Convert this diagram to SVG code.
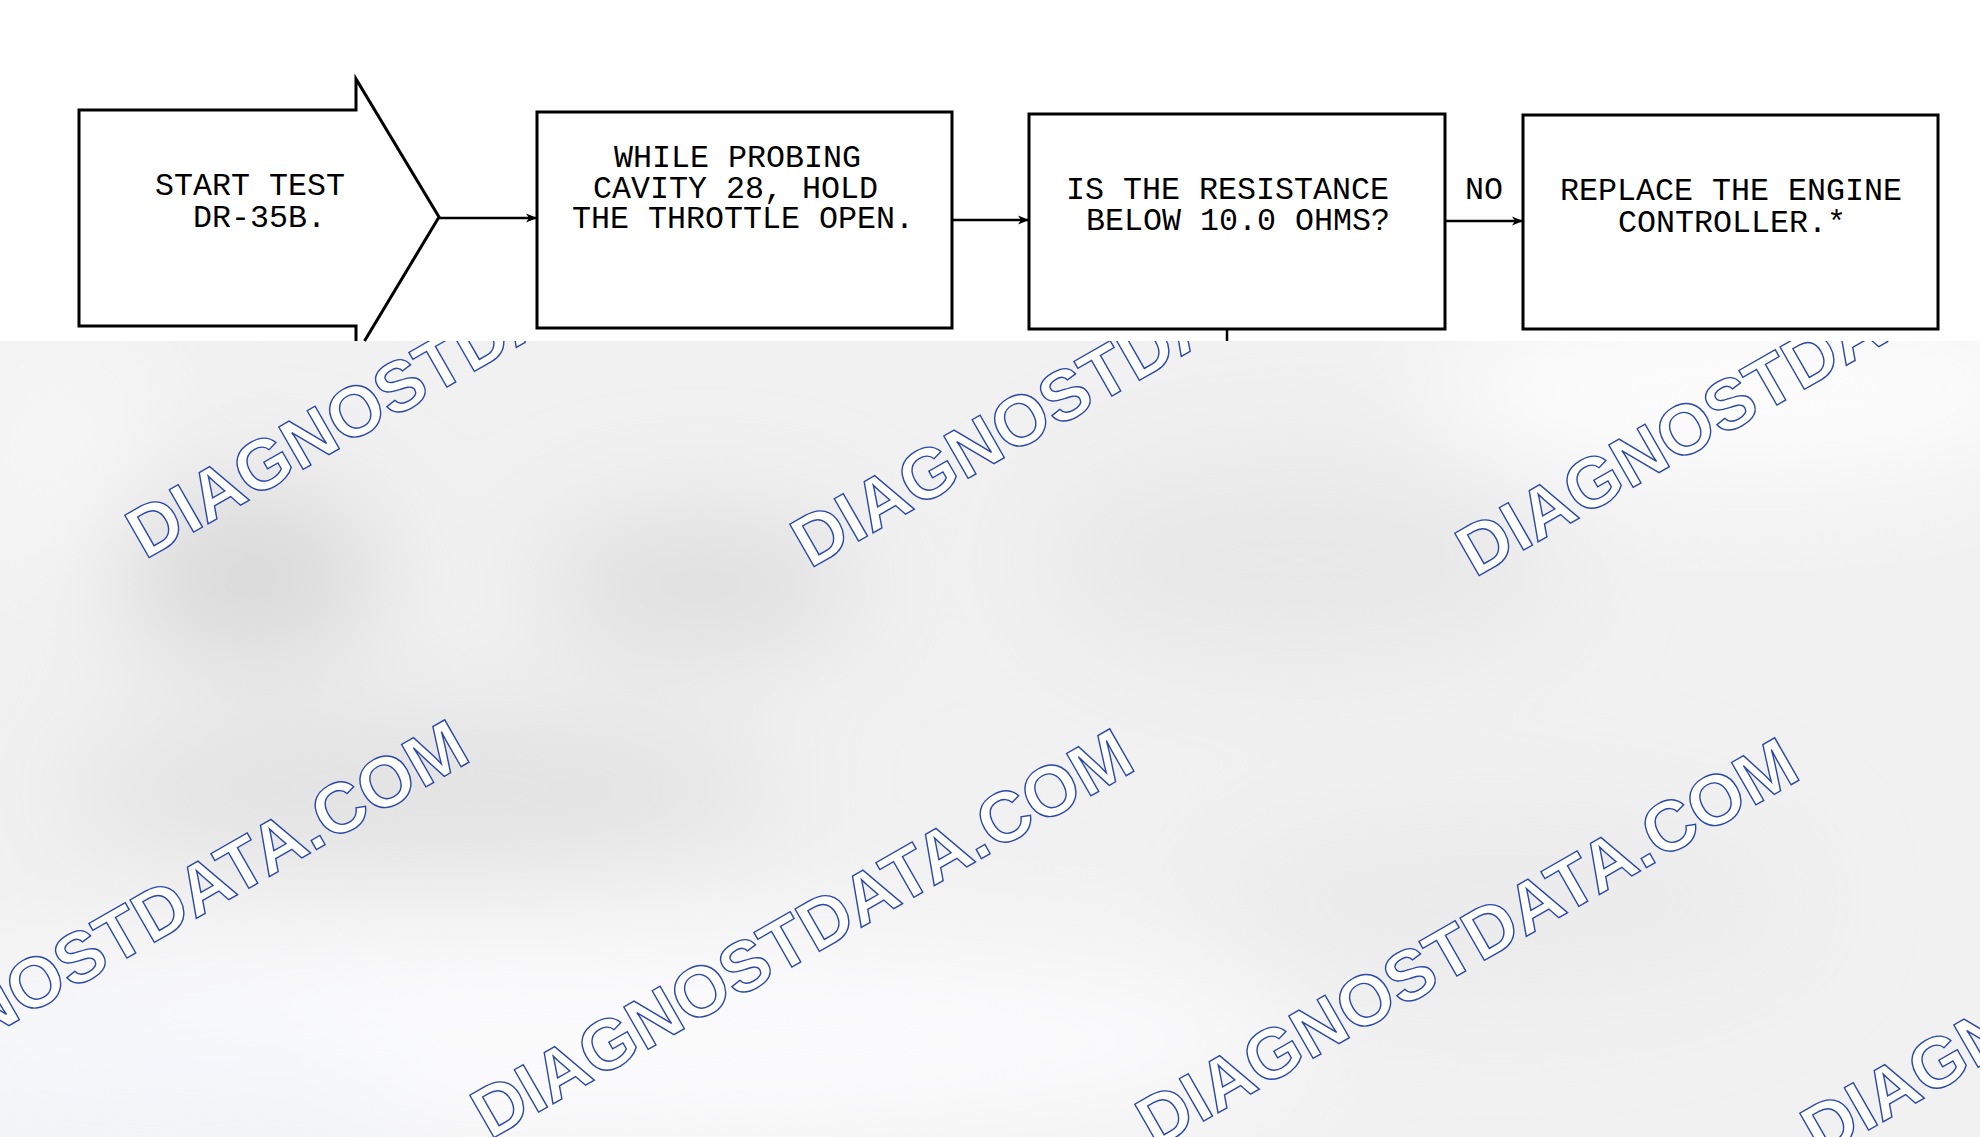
<svg xmlns="http://www.w3.org/2000/svg" width="1980" height="1137" viewBox="0 0 1980 1137">
  <defs>
    <style>
      .box { fill: none; stroke: #000; stroke-width: 3; }
      .shape { fill: none; stroke: #000; stroke-width: 3; stroke-linejoin: miter; }
      .conn { fill: none; stroke: #000; stroke-width: 2.5; }
      .lbl { font-family: "Liberation Mono", "DejaVu Sans Mono", monospace; font-size: 31.67px; fill: #000; }
      .wm { font-family: "Liberation Sans", Arial, sans-serif; font-weight: bold; font-size: 71px; fill: #ffffff; stroke: #2b48a8; stroke-width: 1.4; }
    </style>
    <marker id="arrow" markerUnits="userSpaceOnUse" markerWidth="12" markerHeight="10" refX="11" refY="5" orient="auto">
      <path d="M0,0.5 L11,5 L0,9.5 L3,5 z" fill="#000"/>
    </marker>
    <filter id="blur" x="-50%" y="-50%" width="200%" height="200%">
      <feGaussianBlur stdDeviation="55"/>
    </filter>
  </defs>

  <!-- lower shaded background -->
  <g id="background">
    <rect x="0" y="341" width="1980" height="796" fill="#f1f1f1"/>
    <g filter="url(#blur)">
      <ellipse cx="1750" cy="390" rx="320" ry="90" fill="#fdfdfd"/>
      <ellipse cx="250" cy="575" rx="130" ry="85" fill="#d8d8d8"/>
      <ellipse cx="700" cy="585" rx="160" ry="70" fill="#dedede"/>
      <ellipse cx="420" cy="790" rx="360" ry="80" fill="#e2e2e2"/>
      <ellipse cx="1300" cy="560" rx="260" ry="110" fill="#e8e8e8"/>
      <ellipse cx="1500" cy="900" rx="300" ry="90" fill="#ebebeb"/>
      <ellipse cx="600" cy="1040" rx="700" ry="110" fill="#fbfbfd"/>
      <ellipse cx="150" cy="1100" rx="250" ry="70" fill="#f3f5fa"/>
      <ellipse cx="60" cy="450" rx="90" ry="120" fill="#f6f6f6"/>
    </g>
  </g>

  <!-- watermark -->
  <g id="watermark">
    <text class="wm" transform="translate(145,560) rotate(-29.8)">DIAGNOSTDATA.COM</text>
    <text class="wm" transform="translate(810,569) rotate(-29.8)">DIAGNOSTDATA.COM</text>
    <text class="wm" transform="translate(1475,578) rotate(-29.8)">DIAGNOSTDATA.COM</text>
    <text class="wm" transform="translate(-175,1131) rotate(-29.8)">DIAGNOSTDATA.COM</text>
    <text class="wm" transform="translate(490,1140) rotate(-29.8)">DIAGNOSTDATA.COM</text>
    <text class="wm" transform="translate(1155,1149) rotate(-29.8)">DIAGNOSTDATA.COM</text>
    <text class="wm" transform="translate(1820,1158) rotate(-29.8)">DIAGNOSTDATA.COM</text>
  </g>

  <!-- diagram sheet -->
  <rect id="sheet" x="0" y="0" width="1980" height="341" fill="#ffffff"/>

  <g id="node-start">
    <path class="shape" d="M356,341 V326 H79 V110 H356 V79 L439,217 L364.5,341"/>
    <text class="lbl" x="155" y="195">START TEST</text>
    <text class="lbl" x="193" y="227">DR-35B.</text>
  </g>

  <g id="node-probe">
    <rect class="box" x="537" y="112" width="415" height="216"/>
    <text class="lbl" x="614" y="167">WHILE PROBING</text>
    <text class="lbl" x="593" y="198">CAVITY 28, HOLD</text>
    <text class="lbl" x="572" y="228">THE THROTTLE OPEN.</text>
  </g>

  <g id="node-question">
    <rect class="box" x="1029" y="114" width="416" height="215"/>
    <text class="lbl" x="1066" y="199">IS THE RESISTANCE</text>
    <text class="lbl" x="1086" y="230">BELOW 10.0 OHMS?</text>
  </g>

  <g id="node-replace">
    <rect class="box" x="1523" y="115" width="415" height="214"/>
    <text class="lbl" x="1560" y="200">REPLACE THE ENGINE</text>
    <text class="lbl" x="1618" y="232">CONTROLLER.*</text>
  </g>

  <g id="connectors">
    <line class="conn" x1="439" y1="218" x2="537" y2="218" marker-end="url(#arrow)"/>
    <line class="conn" x1="952" y1="220" x2="1029" y2="220" marker-end="url(#arrow)"/>
    <line class="conn" x1="1445" y1="221" x2="1523" y2="221" marker-end="url(#arrow)"/>
    <line class="conn" x1="1227" y1="329" x2="1227" y2="341" stroke-width="3"/>
    <text class="lbl" x="1465" y="199">NO</text>
  </g>
</svg>
